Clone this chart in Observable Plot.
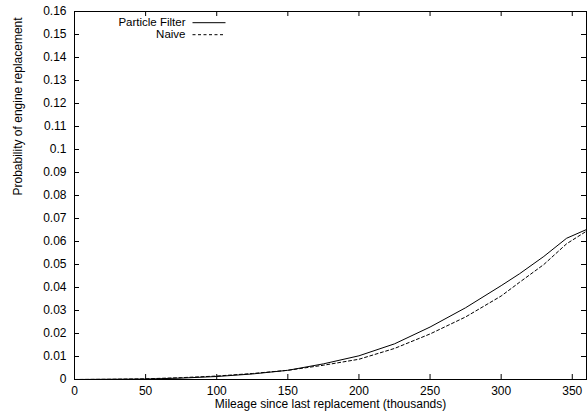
<!DOCTYPE html>
<html><head><meta charset="utf-8">
<script src="https://cdn.jsdelivr.net/npm/d3@7"></script>
<script src="https://cdn.jsdelivr.net/npm/@observablehq/plot@0.6"></script>
<style>html,body{margin:0;padding:0;background:#fff} svg{display:block}</style>
</head><body><div id="chart"></div>
<script>
// Data
const mileage        = [0, 25, 50, 75, 100, 125, 150, 175, 200, 225, 250, 275, 300, 313, 330, 346, 360];
const particleFilter = [0.0000, 0.0001, 0.0002, 0.0006, 0.0013, 0.0024, 0.0040, 0.0068, 0.0103, 0.0155, 0.0228, 0.0312, 0.0408, 0.0460, 0.0535, 0.0614, 0.0652];
const naive          = [0.0000, 0.0001, 0.0003, 0.0008, 0.0015, 0.0026, 0.0040, 0.0062, 0.0088, 0.0135, 0.0198, 0.0272, 0.0363, 0.0423, 0.0500, 0.0590, 0.0645];
const seriesNames = ["Particle Filter", "Naive"];
const xTicks = [0, 50, 100, 150, 200, 250, 300, 350];
const yTicks = [0, 0.01, 0.02, 0.03, 0.04, 0.05, 0.06, 0.07, 0.08, 0.09, 0.1, 0.11, 0.12, 0.13, 0.14, 0.15, 0.16];
const xLabel = "Mileage since last replacement (thousands)";
const yLabel = "Probability of engine replacement";

const W = 587, H = 419, mL = 74, mR = 1, mT = 11, mB = 40;
const xDomain = [0, 360], yDomain = [0, 0.16];
const pxX = (xDomain[1] - xDomain[0]) / (W - mL - mR);   // data units per px
const pxY = (yDomain[1] - yDomain[0]) / (H - mT - mB);
const tick = 5;

const rows = [];
mileage.forEach((m, i) => {
  rows.push({series: seriesNames[0], x: m, y: particleFilter[i]});
  rows.push({series: seriesNames[1], x: m, y: naive[i]});
});

// legend sample positions (pixel offsets inside the frame, converted to data units)
const legend = seriesNames.map((s, i) => ({
  series: s,
  x1: xDomain[0] + (192 - mL) * pxX,
  x2: xDomain[0] + (225 - mL) * pxX,
  y: yDomain[1] - (11.2 + i * 12) * pxY
}));
const dash = {"Particle Filter": null, "Naive": "3,2.5"};

const chart = Plot.plot({
  width: W, height: H,
  marginLeft: mL, marginRight: mR, marginTop: mT, marginBottom: mB,
  style: {fontFamily: "'Liberation Sans', Arial, Helvetica, sans-serif", fontSize: "12px", color: "#000", background: "#fff"},
  x: {domain: xDomain},
  y: {domain: yDomain},
  marks: [
    Plot.axisX(xTicks, {tickSize: 0, tickPadding: 7, label: null, tickFormat: d => String(d)}),
    Plot.axisY(yTicks, {tickSize: 0, tickPadding: 8, label: null, tickFormat: d => String(+d.toFixed(2))}),
    // inward ticks on all four sides
    Plot.ruleX(xTicks, {x: d => d, y1: yDomain[0], y2: yDomain[0] + tick * pxY, stroke: "#000"}),
    Plot.ruleX(xTicks, {x: d => d, y1: yDomain[1], y2: yDomain[1] - tick * pxY, stroke: "#000"}),
    Plot.ruleY(yTicks, {y: d => d, x1: xDomain[0], x2: xDomain[0] + tick * pxX, stroke: "#000"}),
    Plot.ruleY(yTicks, {y: d => d, x1: xDomain[1], x2: xDomain[1] - tick * pxX, stroke: "#000"}),
    Plot.line(rows.filter(d => d.series === seriesNames[0]), {x: "x", y: "y", stroke: "#000", strokeWidth: 1}),
    Plot.line(rows.filter(d => d.series === seriesNames[1]), {x: "x", y: "y", stroke: "#000", strokeWidth: 1, strokeDasharray: dash["Naive"]}),
    Plot.frame({stroke: "#000", strokeWidth: 1}),
    // legend
    Plot.text(legend, {x: "x1", y: "y", text: "series", textAnchor: "end", dx: -7, fill: "#000", fontSize: 11.5}),
    Plot.link([legend[0]], {x1: "x1", x2: "x2", y1: "y", y2: "y", stroke: "#000", strokeWidth: 1}),
    Plot.link([legend[1]], {x1: "x1", x2: "x2", y1: "y", y2: "y", stroke: "#000", strokeWidth: 1, strokeDasharray: dash["Naive"]}),
    // axis titles
    Plot.text([xLabel], {text: d => d, frameAnchor: "bottom", dy: 28, fill: "#000"}),
    Plot.text([yLabel], {text: d => d, frameAnchor: "left", dx: -56, rotate: -90, fill: "#000"})
  ]
});
document.getElementById("chart").appendChild(chart);
</script>
</body></html>
